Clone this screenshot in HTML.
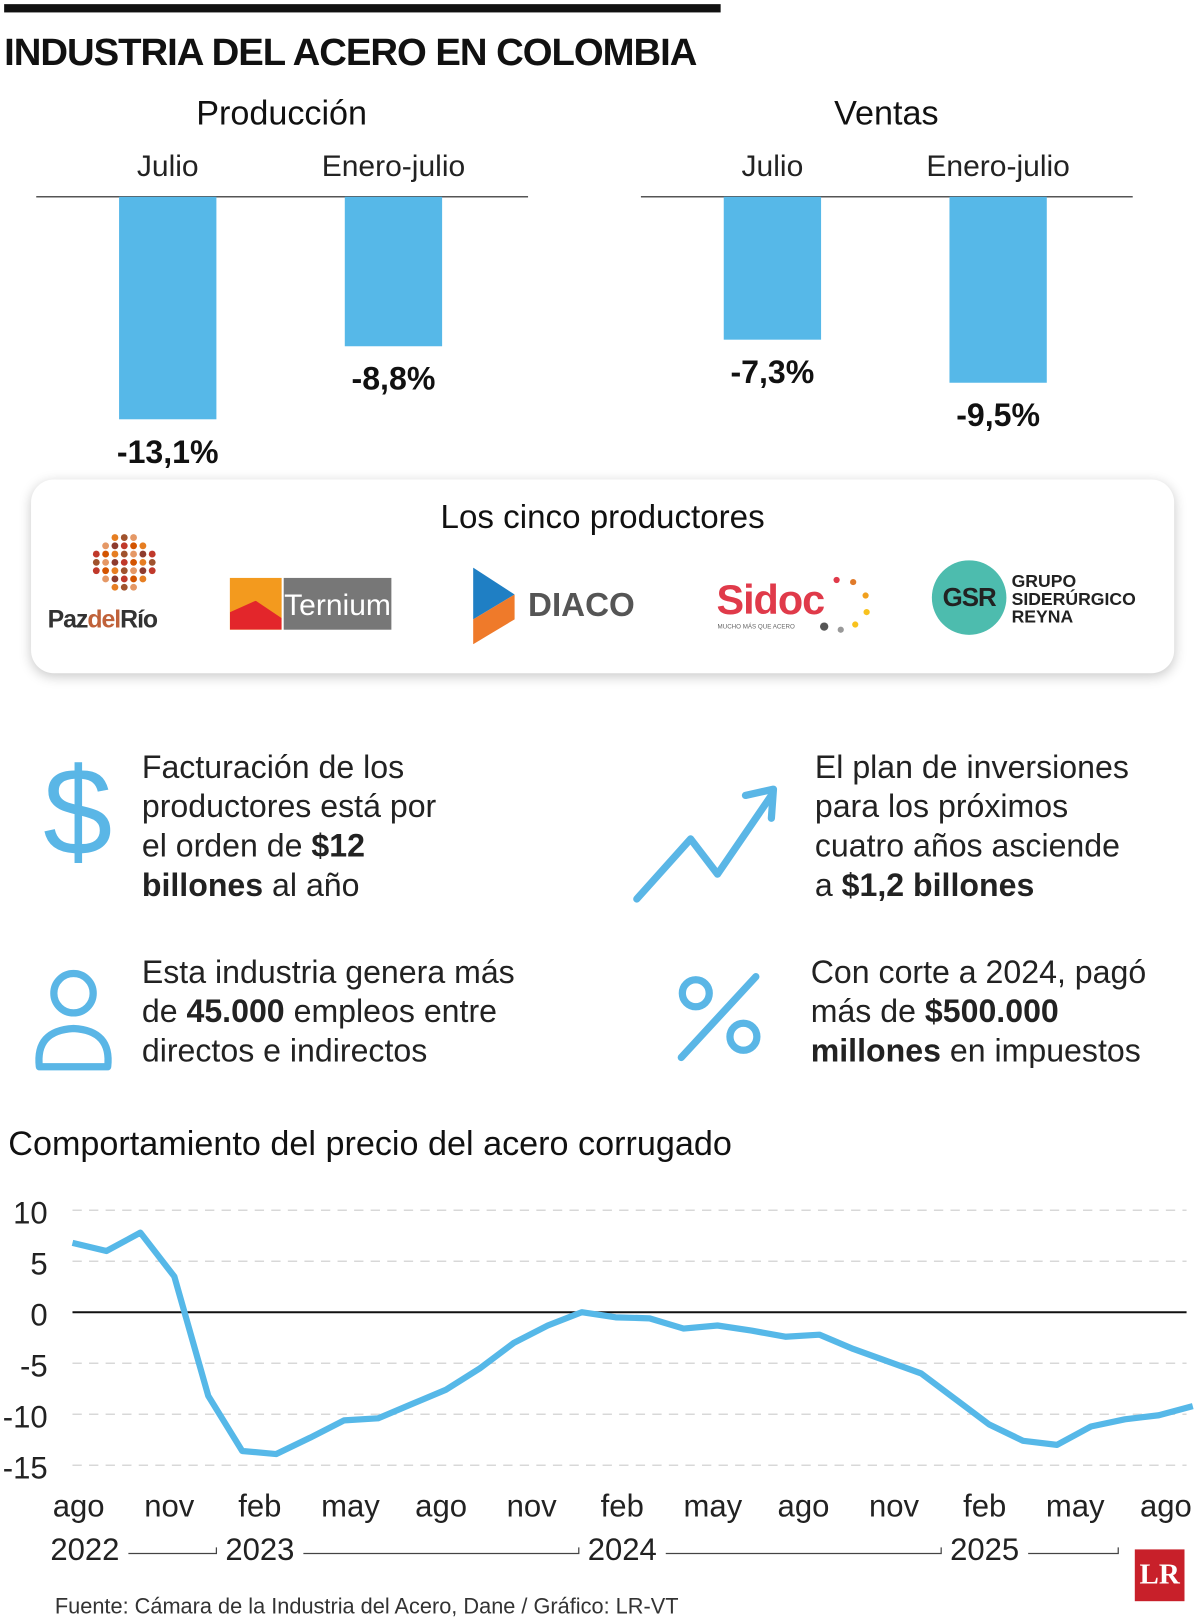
<!DOCTYPE html>
<html><head><meta charset="utf-8"><style>
body{margin:0;width:1200px;height:1624px;overflow:hidden;background:#fff;}
#w{position:absolute;left:0;top:0;width:1159px;height:1568px;transform:scale(1.0354,1.0357);transform-origin:0 0;font-family:"Liberation Sans",sans-serif;color:#111;}
.a{position:absolute;white-space:nowrap;}
.n{font-family:"Liberation Sans Narrow","Liberation Sans",sans-serif;}
.t{font-size:31px;line-height:38px;color:#222;}
</style></head><body><div id="w">
<div class="a" style="left:4px;top:4px;width:692px;height:8px;background:#111"></div>
<div class="a" style="left:4px;top:30px;font-size:37px;font-weight:bold;letter-spacing:-1px">INDUSTRIA DEL ACERO EN COLOMBIA</div>
<svg class="a" style="left:0;top:80px" width="1159" height="380" id="bars"></svg>
<div class="a" style="left:30px;top:463px;width:1104px;height:187px;border-radius:22px;background:#fff;box-shadow:0 3px 12px rgba(0,0,0,0.22)">
 <div class="a" style="left:0;width:1104px;top:18px;text-align:center;font-size:32px">Los cinco productores</div>
 <svg class="a" style="left:40px;top:48px" width="100" height="70">
  <g id="dots"></g></svg>
 <div class="a" style="left:16px;top:122px;font-size:24px;font-weight:bold;color:#333;letter-spacing:-1px">Paz<span style="color:#c0623a">del</span>Río</div>
 <div class="a" style="left:192px;top:95px;width:50px;height:50px;background:#f39a1e"><div style="position:absolute;left:0;top:22px;width:50px;height:28px;background:#e3262b;clip-path:polygon(0 40%,50% 0,100% 60%,100% 100%,0 100%)"></div></div>
 <div class="a n" style="left:244px;top:95px;width:104px;height:50px;background:#777;color:#fff;font-size:29px;line-height:54px;text-align:center">Ternium</div>
 <svg class="a" style="left:425px;top:85px" width="44" height="74"><polygon points="2,0 42,26 2,50" fill="#1f7fc4"/><polygon points="42,26 2,50 2,74 42,50" fill="#ef7a2a"/></svg>
 <div class="a" style="left:480px;top:103px;font-size:32px;font-weight:bold;color:#555">DIACO</div>
 <div class="a" style="left:662px;top:95px;font-size:40px;font-weight:bold;color:#e03a4a;letter-spacing:-1px">Sidoc</div>
 <div class="a" style="left:663px;top:140px;font-size:6px;color:#666">MUCHO MÁS QUE ACERO</div>
 <svg class="a" style="left:760px;top:90px" width="55" height="62"><circle cx="18" cy="7" r="3" fill="#e03a4a"/><circle cx="34" cy="9" r="3" fill="#e07a2a"/><circle cx="46" cy="22" r="3" fill="#f1a01e"/><circle cx="47" cy="38" r="3" fill="#f8c21e"/><circle cx="36" cy="50" r="3" fill="#f8c21e"/><circle cx="22" cy="55" r="3" fill="#999"/><circle cx="6" cy="52" r="4" fill="#555"/></svg>
 <div class="a" style="left:870px;top:78px;width:72px;height:72px;border-radius:50%;background:#4dbcae;color:#222;font-weight:bold;font-size:25px;line-height:72px;text-align:center;letter-spacing:-1px">GSR</div>
 <div class="a" style="left:947px;top:90px;font-size:17px;font-weight:bold;line-height:17px;color:#222">GRUPO<br>SIDERÚRGICO<br>REYNA</div>
</div>
<svg class="a" style="left:40px;top:725px" width="70" height="115"><text x="35" y="100" font-size="120" text-anchor="middle" fill="#5ab6e6" font-family="Liberation Sans">$</text></svg>
<div class="a t" style="left:137px;top:722px">Facturación de los<br>productores está por<br>el orden de <b>$12</b><br><b>billones</b> al año</div>
<svg class="a" style="left:605px;top:750px" width="160" height="130"><polyline points="10,118 62,60 88,94 140,18" fill="none" stroke="#5ab6e6" stroke-width="7" stroke-linecap="round" stroke-linejoin="round"/><polyline points="115,18 142,12 140,40" fill="none" stroke="#5ab6e6" stroke-width="7" stroke-linecap="round" stroke-linejoin="round"/></svg>
<div class="a t" style="left:787px;top:722px">El plan de inversiones<br>para los próximos<br>cuatro años asciende<br>a <b>$1,2 billones</b></div>
<svg class="a" style="left:30px;top:935px" width="82" height="100"><circle cx="41" cy="24" r="19" fill="none" stroke="#5ab6e6" stroke-width="7"/><path d="M8,95 Q4,60 41,58 Q78,60 74,95 Z" fill="none" stroke="#5ab6e6" stroke-width="7" stroke-linejoin="round"/></svg>
<div class="a t" style="left:137px;top:920px">Esta industria genera más<br>de <b>45.000</b> empleos entre<br>directos e indirectos</div>
<svg class="a" style="left:648px;top:935px" width="95" height="95"><circle cx="24" cy="24" r="13" fill="none" stroke="#5ab6e6" stroke-width="7"/><circle cx="70" cy="66" r="13" fill="none" stroke="#5ab6e6" stroke-width="7"/><line x1="82" y1="8" x2="10" y2="86" stroke="#5ab6e6" stroke-width="7" stroke-linecap="round"/></svg>
<div class="a t" style="left:783px;top:920px">Con corte a 2024, pagó<br>más de <b>$500.000</b><br><b>millones</b> en impuestos</div>
<div class="a" style="left:8px;top:1085px;font-size:33px">Comportamiento del precio del acero corrugado</div>
<svg class="a" style="left:0;top:1140px" width="1159" height="380" id="line"></svg>
<div class="a" style="left:53px;top:1540px;font-size:21px;color:#333">Fuente: Cámara de la Industria del Acero, Dane / Gráfico: LR-VT</div>
<div class="a" style="left:1096px;top:1496px;width:48px;height:50px;background:#c8202a;color:#fff;font-family:'Liberation Serif',serif;font-weight:bold;font-size:28px;line-height:50px;text-align:center">LR</div>
</div>
<script>
const NS="http://www.w3.org/2000/svg";
function mk(p,t,a){const e=document.createElementNS(NS,t);for(const k in a)e.setAttribute(k,a[k]);p.appendChild(e);return e;}
// bar data
const prodCats=["Julio","Enero-julio"];
const prodVals=[-13.1,-8.8];
const ventCats=["Julio","Enero-julio"];
const ventVals=[-7.3,-9.5];
const groupTitles=["Producción","Ventas"];
const barLabels=[["-13,1%","-8,8%"],["-7,3%","-9,5%"]];
const lineVals=[6.8,6,7.8,3.5,-8.2,-13.6,-13.9,-12.3,-10.6,-10.4,-9,-7.6,-5.5,-3,-1.3,0,-0.5,-0.6,-1.6,-1.3,-1.8,-2.4,-2.2,-3.6,-4.8,-6,-8.5,-11,-12.6,-13,-11.2,-10.5,-10.1,-9.2];
const yTicks=[10,5,0,-5,-10,-15];
const monthLabels=["ago","nov","feb","may","ago","nov","feb","may","ago","nov","feb","may","ago"];
const yearLabels=["2022","2023","2024","2025"];

const bs=document.getElementById('bars');
[[prodCats,prodVals,35,16.4],[ventCats,ventVals,619,18.9]].forEach((g,gi)=>{
 const [cats,vals,x0,sc]=g;
 const t=mk(bs,'text',{x:x0+237,y:40,'font-size':33,'text-anchor':'middle',fill:'#111'});t.textContent=groupTitles[gi];
 
 
 const l=mk(bs,'line',{x1:x0,x2:x0+475,y1:110,y2:110,stroke:'#555','stroke-width':1.5});
 
 
 cats.forEach((c,i)=>{
  const cx=x0+127+i*218;
  const h=-vals[i]*sc;
  const r=mk(bs,'rect',{x:cx-47,y:110,width:94,height:h,fill:'#56b8e8'});
  
  
  const ct=mk(bs,'text',{x:cx,y:90,'font-size':29,'text-anchor':'middle',fill:'#222','font-family':'Liberation Sans Narrow, Liberation Sans, sans-serif'});ct.textContent=c;
  
  
  const vt=mk(bs,'text',{x:cx,y:110+h+42,'font-size':31,'font-weight':'bold','text-anchor':'middle',fill:'#111'});vt.textContent=barLabels[gi][i];
  
  
 });
});
// paz del rio dots
const dg=document.getElementById('dots');const cols=['#c0392b','#d35400','#e67e22','#a0522d','#e59866','#8e3b2e'];
for(let r=0;r<7;r++)for(let c=0;c<7;c++){const dx=c-3,dy=r-3;if(dx*dx+dy*dy<=10){const d=mk(dg,'circle',{cx:50+dx*9,cy:32+dy*8,r:3.3,fill:cols[(r*3+c)%6]});}}

const ls=document.getElementById('line');
const X0=70,X1=1152;
const y=v=>127-v*9.85;
const x=i=>X0+i*(X1-X0)/(lineVals.length-1);
yTicks.forEach(v=>{
 const l=mk(ls,'line',{x1:70,x2:1146,y1:y(v),y2:y(v),stroke:v===0?'#111':'#d8d8d8','stroke-width':v===0?2:1.5,'stroke-dasharray':v===0?'':'9,7'});
 
 
 const t=mk(ls,'text',{x:46,y:y(v)+13,'font-size':30,'text-anchor':'end',fill:'#222','font-family':'Liberation Sans Narrow, Liberation Sans, sans-serif'});t.textContent=v;
 
 
});
const p=mk(ls,'polyline',{points:lineVals.map((v,i)=>x(i)+','+y(v)).join(' '),fill:'none',stroke:'#56b8e8','stroke-width':6,'stroke-linejoin':'round'});


const mx0=76,mstep=87.5;
monthLabels.forEach((m,i)=>{
 const t=mk(ls,'text',{x:mx0+i*mstep,y:324,'font-size':30,'text-anchor':'middle',fill:'#222','font-family':'Liberation Sans Narrow, Liberation Sans, sans-serif'});t.textContent=m;
 
 
});
const yIdx=[0,2,6,10];
yearLabels.forEach((yl,i)=>{
 const cx=mx0+yIdx[i]*mstep+(i===0?6:0);
 const t=mk(ls,'text',{x:cx,y:366,'font-size':30,'text-anchor':'middle',fill:'#222','font-family':'Liberation Sans Narrow, Liberation Sans, sans-serif'});t.textContent=yl;
 
 
 const xs=cx+42,xe=i<3?mx0+yIdx[i+1]*mstep-42:1080;
 const l=mk(ls,'polyline',{points:`${xs},360 ${xe},360 ${xe},354`,fill:'none',stroke:'#444','stroke-width':1.2});
 
 
});
</script></body></html>
